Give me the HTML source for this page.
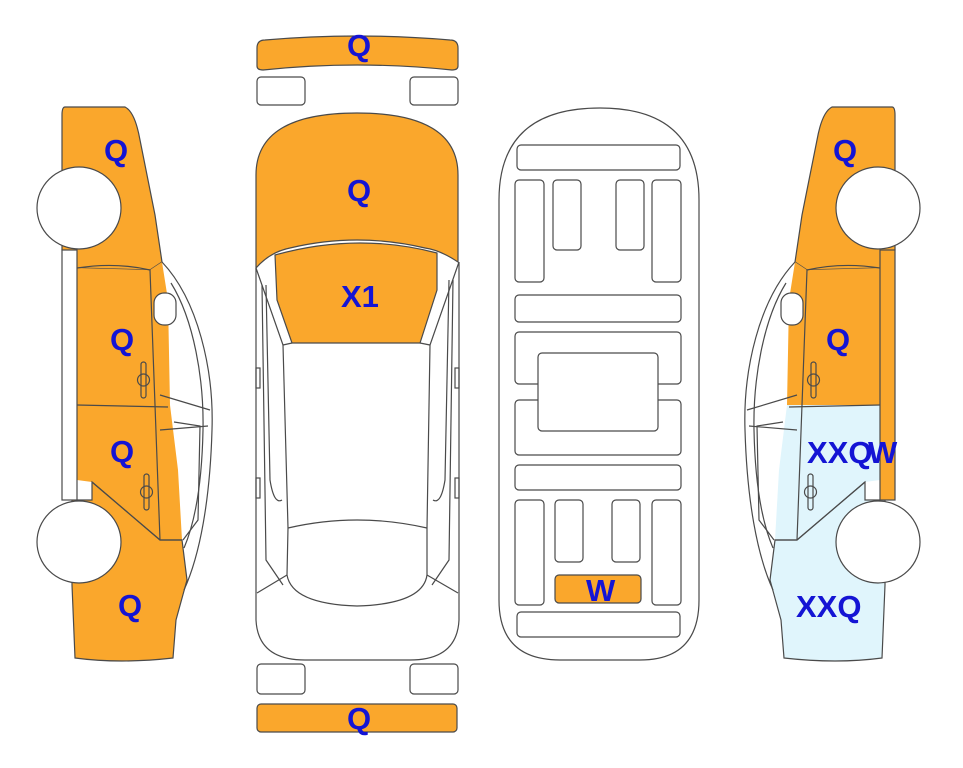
<!DOCTYPE html>
<html><head><meta charset="utf-8"><style>
html,body{margin:0;padding:0;background:#fff;}
svg{display:block;}
text{font-family:"Liberation Sans",Arial,sans-serif;font-weight:bold;fill:#1414d4;font-size:31px;}
</style></head><body>
<svg width="963" height="768" viewBox="0 0 963 768" xmlns="http://www.w3.org/2000/svg">
<defs>
  <g id="side-lines" fill="none" stroke="#4a4a4a" stroke-width="1.2">
    <path d="M162,262 C198,300 214,370 212,430 C210,500 200,555 184,590"/>
    <path d="M171,283 C194,320 204,380 203,430 C202,480 196,520 184,548"/>
    <path d="M160,395 L210,410"/>
    <path d="M160,430 L208,426"/>
    <path d="M174,422 L200,426 L198,520 L183,540"/>
    <path d="M77,268 Q115,262 150,270 L160,540"/>
    <path d="M77,405 L168,407"/>
    <path d="M92,482 L160,540 L182,540"/>
    <rect x="62" y="250" width="15" height="250"/>
    <rect x="154" y="293" width="22" height="32" rx="10" fill="#fff"/>
    <rect x="141" y="362" width="5" height="36" rx="2.5"/>
    <circle cx="143.5" cy="380" r="6"/>
    <rect x="144" y="474" width="5" height="36" rx="2.5"/>
    <circle cx="146.5" cy="492" r="6"/>
  </g>
</defs>

<!-- LEFT CAR -->
<g>
  <path d="M65,107 L125,107 Q135,112 140,140 L155,215 L162,262 L150,270 L77,268 L62,250 L62,115 Q62,107 65,107 Z" fill="#FAA72C" stroke="#4a4a4a" stroke-width="1.2"/>
  <path d="M77,268 L150,270 L162,262 L168,300 L170,405 L77,405 Z" fill="#FAA72C"/>
  <path d="M77,405 L170,405 L178,470 L182,540 L160,540 L92,482 L77,480 Z" fill="#FAA72C"/>
  <path d="M92,482 L160,540 L182,540 L187,580 L176,620 L173,658 Q120,664 75,658 L72,585 L72,500 L92,500 Z" fill="#FAA72C" stroke="#4a4a4a" stroke-width="1.2"/>
  <rect x="62" y="250" width="15" height="250" fill="#fff"/>
  <use href="#side-lines"/>
  <ellipse cx="79" cy="208" rx="42" ry="41" fill="#fff" stroke="#4a4a4a" stroke-width="1.2"/>
  <ellipse cx="79" cy="542" rx="42" ry="41" fill="#fff" stroke="#4a4a4a" stroke-width="1.2"/>
</g>
<text x="104" y="161">Q</text>
<text x="110" y="350">Q</text>
<text x="110" y="462">Q</text>
<text x="118" y="616">Q</text>

<!-- RIGHT CAR (mirror) -->
<g transform="translate(957,0) scale(-1,1)">
  <path d="M65,107 L125,107 Q135,112 140,140 L155,215 L162,262 L150,270 L77,268 L62,250 L62,115 Q62,107 65,107 Z" fill="#FAA72C" stroke="#4a4a4a" stroke-width="1.2"/>
  <path d="M77,268 L150,270 L162,262 L168,300 L170,405 L77,405 Z" fill="#FAA72C"/>
  <path d="M77,405 L170,405 L178,470 L182,540 L160,540 L92,482 L77,480 Z" fill="#E0F5FC"/>
  <path d="M92,482 L160,540 L182,540 L187,580 L176,620 L173,658 Q120,664 75,658 L72,585 L72,500 L92,500 Z" fill="#E0F5FC" stroke="#4a4a4a" stroke-width="1.2"/>
  <rect x="62" y="250" width="15" height="250" fill="#FAA72C"/>
  <use href="#side-lines"/>
  <ellipse cx="79" cy="208" rx="42" ry="41" fill="#fff" stroke="#4a4a4a" stroke-width="1.2"/>
  <ellipse cx="79" cy="542" rx="42" ry="41" fill="#fff" stroke="#4a4a4a" stroke-width="1.2"/>
</g>
<text x="833" y="161">Q</text>
<text x="826" y="350">Q</text>
<text x="807" y="463">XXQ</text>
<text x="868" y="463">W</text>
<text x="796" y="617">XXQ</text>

<!-- MIDDLE TOP VIEW -->
<g stroke="#4a4a4a" stroke-width="1.2">
  <path d="M257,48 Q257,40 265,40 Q357,32 450,40 Q458,40 458,48 L458,66 Q458,70 452,70 Q357,60 263,70 Q257,70 257,66 Z" fill="#FAA72C"/>
  <rect x="257" y="77" width="48" height="28" rx="4" fill="#fff"/>
  <rect x="410" y="77" width="48" height="28" rx="4" fill="#fff"/>
  <path d="M256,268 L256,620 Q258,660 305,660 L410,660 Q457,660 459,620 L459,262" fill="#fff"/>
  <path d="M256,268 L256,175 Q256,113 357,113 Q458,113 458,175 L458,262 Q440,250 425,248 Q357,232 290,248 Q270,252 256,268 Z" fill="#FAA72C"/>
  <path d="M275,255 Q357,232 437,253 L437,290 L420,343 L292,343 L277,300 Z" fill="#FAA72C"/>
  <g fill="none">
    <path d="M256,268 L283,345 L292,343"/>
    <path d="M459,262 L430,345 L420,343"/>
    <path d="M283,345 L288,528 L287,575 Q292,604 357,606 Q423,604 427,575 L427,528 L430,345"/>
    <path d="M288,528 Q357,512 427,528"/>
    <path d="M266,285 L270,480 Q274,505 282,500"/>
    <path d="M449,280 L445,480 Q441,505 433,500"/>
    <path d="M262,285 L266,560 L283,585"/>
    <path d="M453,280 L449,560 L432,585"/>
    <path d="M257,593 L287,575"/>
    <path d="M458,593 L427,575"/>
    <rect x="256" y="368" width="4" height="20"/>
    <rect x="455" y="368" width="4" height="20"/>
    <rect x="256" y="478" width="4" height="20"/>
    <rect x="455" y="478" width="4" height="20"/>
  </g>
  <rect x="257" y="664" width="48" height="30" rx="4" fill="#fff"/>
  <rect x="410" y="664" width="48" height="30" rx="4" fill="#fff"/>
  <rect x="257" y="704" width="200" height="28" rx="4" fill="#FAA72C"/>
</g>
<text x="347" y="56">Q</text>
<text x="347" y="201">Q</text>
<text x="341" y="307">X1</text>
<text x="347" y="729">Q</text>

<!-- UNDERSIDE -->
<g stroke="#4a4a4a" stroke-width="1.2" fill="#fff">
  <path d="M499,200 Q499,108 600,108 Q699,108 699,200 L699,600 Q699,660 640,660 L560,660 Q499,660 499,600 Z"/>
  <rect x="517" y="145" width="163" height="25" rx="4"/>
  <rect x="515" y="180" width="29" height="102" rx="4"/>
  <rect x="652" y="180" width="29" height="102" rx="4"/>
  <rect x="553" y="180" width="28" height="70" rx="4"/>
  <rect x="616" y="180" width="28" height="70" rx="4"/>
  <rect x="515" y="295" width="166" height="27" rx="4"/>
  <rect x="515" y="332" width="166" height="52" rx="4"/>
  <rect x="515" y="400" width="166" height="55" rx="4"/>
  <rect x="538" y="353" width="120" height="78" rx="4"/>
  <rect x="515" y="465" width="166" height="25" rx="4"/>
  <rect x="515" y="500" width="29" height="105" rx="4"/>
  <rect x="652" y="500" width="29" height="105" rx="4"/>
  <rect x="555" y="500" width="28" height="62" rx="4"/>
  <rect x="612" y="500" width="28" height="62" rx="4"/>
  <rect x="555" y="575" width="86" height="28" rx="4" fill="#FAA72C"/>
  <rect x="517" y="612" width="163" height="25" rx="4"/>
</g>
<text x="586" y="601">W</text>
</svg>
</body></html>
